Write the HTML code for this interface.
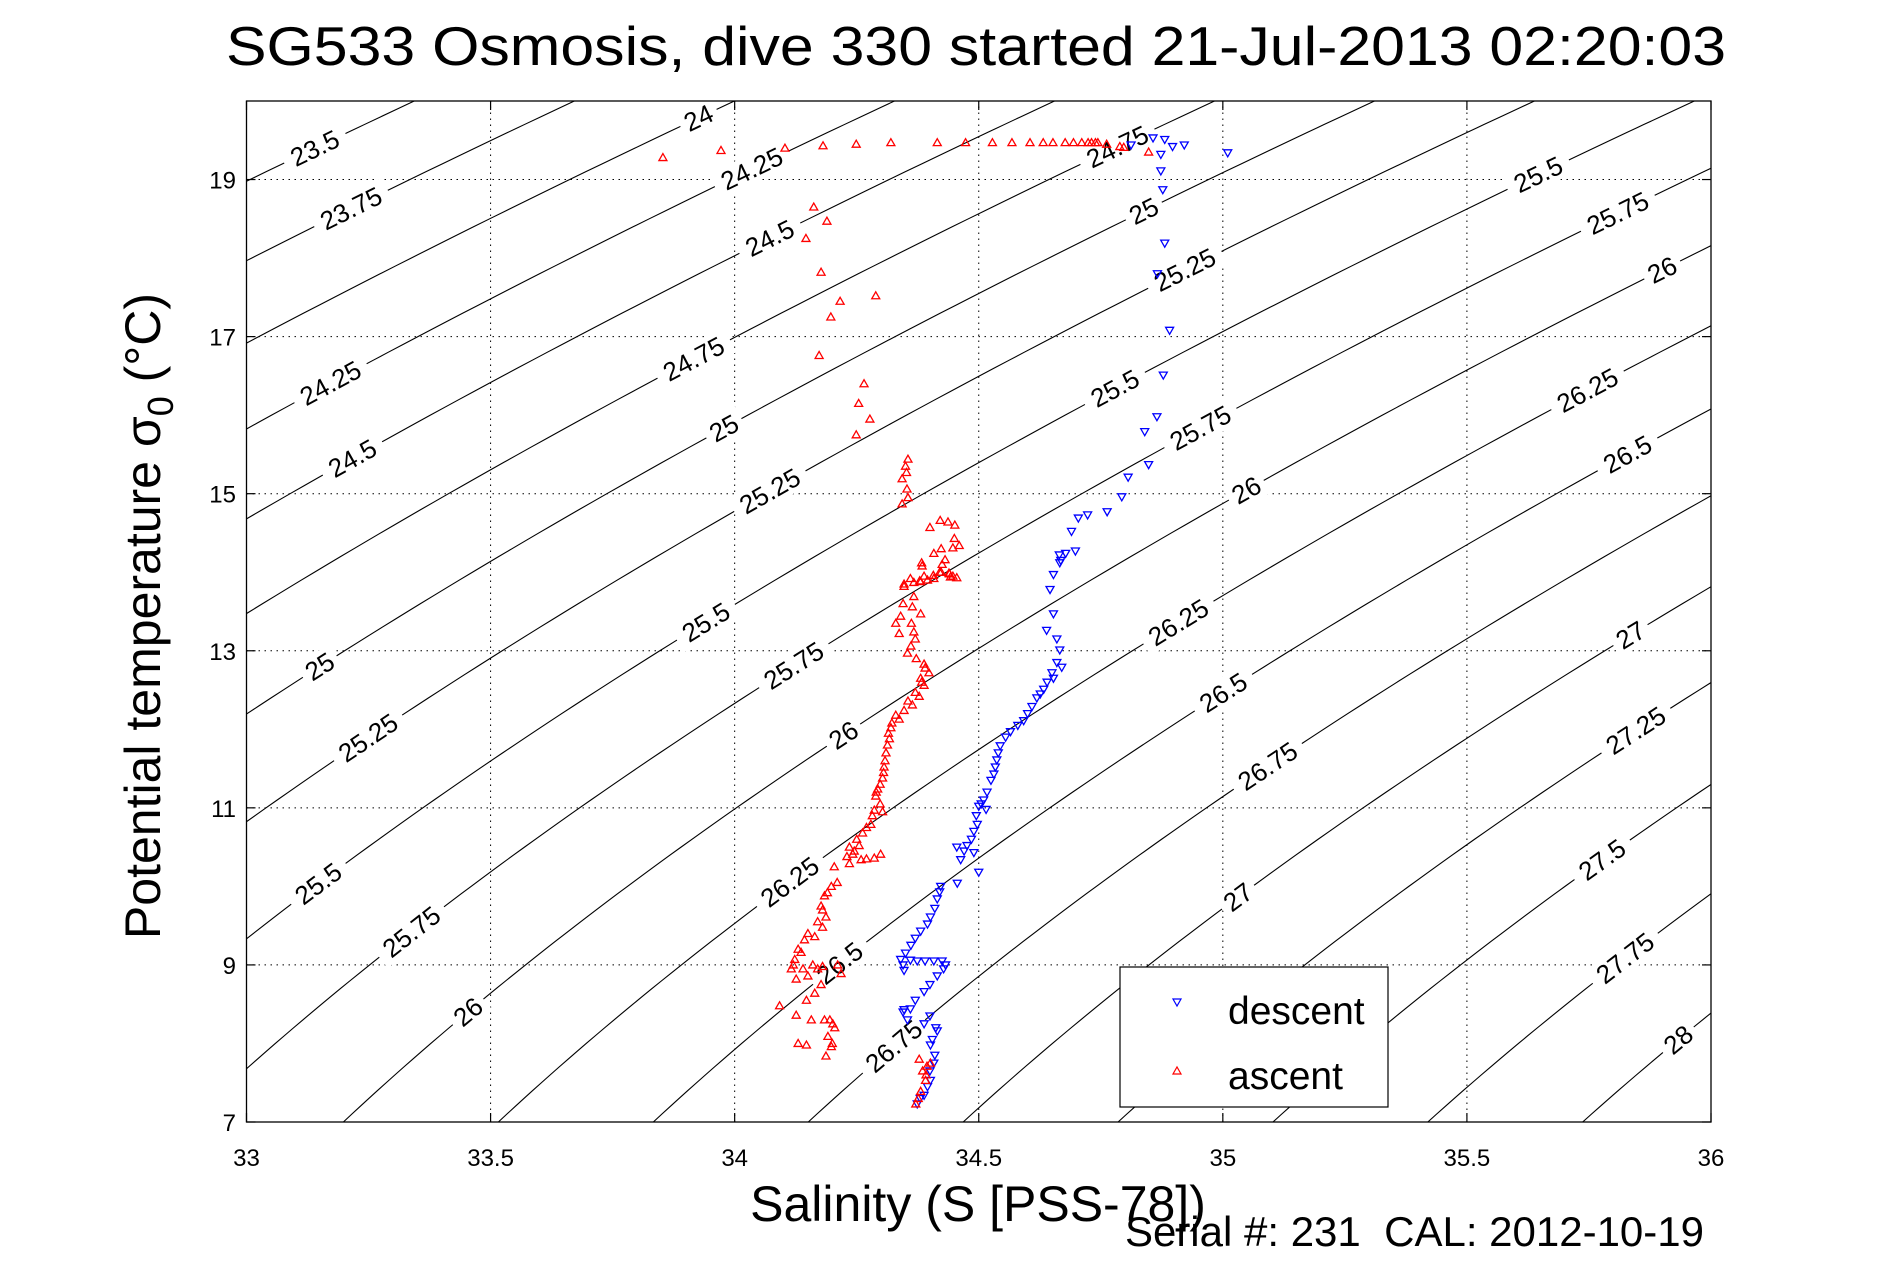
<!DOCTYPE html>
<html><head><meta charset="utf-8"><title>SG533 TS diagram</title>
<style>
html,body{margin:0;padding:0;background:#fff;}
svg{display:block;font-family:"Liberation Sans",sans-serif;}
</style></head>
<body>
<svg id="chart" width="1891" height="1262" viewBox="0 0 1891 1262" xmlns="http://www.w3.org/2000/svg">
<rect x="0" y="0" width="1891" height="1262" fill="#fff"/>
<text x="976" y="65" font-size="55" text-anchor="middle" textLength="1500" lengthAdjust="spacingAndGlyphs">SG533 Osmosis, dive 330 started 21-Jul-2013 02:20:03</text>
<defs><clipPath id="plotclip"><rect x="246.5" y="101" width="1464.5" height="1021"/></clipPath></defs>
<g id="grid"></g>
<g id="contours" clip-path="url(#plotclip)"></g>
<g id="clabels"></g>
<g id="desc" clip-path="url(#plotclip)"></g>
<g id="asc" clip-path="url(#plotclip)"></g>
<rect x="246.5" y="101" width="1464.5" height="1021" fill="none" stroke="#000" stroke-width="1.3"/>
<g id="ticks"></g>
<text x="978" y="1221" font-size="50" text-anchor="middle">Salinity (S [PSS-78])</text>
<text transform="translate(160,616) rotate(-90)" font-size="50" text-anchor="middle">Potential temperature σ<tspan font-size="36" dy="13">0</tspan><tspan dy="-13"> (°C)</tspan></text>
<text x="1704" y="1246" font-size="42" text-anchor="end">Serial #: 231&#160; CAL: 2012-10-19</text>
<g>
<rect x="1120" y="967" width="268" height="140" fill="#fff" stroke="#000" stroke-width="1.2"/>
<path d="M1173,999 L1181,999 L1177,1006 Z" fill="none" stroke="#0000ff" stroke-width="1.2"/>
<text x="1228" y="1024" font-size="39">descent</text>
<path d="M1173,1074 L1181,1074 L1177,1067 Z" fill="none" stroke="#ff0000" stroke-width="1.2"/>
<text x="1228" y="1089" font-size="39">ascent</text>
</g>
</svg>
<script>
const xTicks = [33, 33.5, 34, 34.5, 35, 35.5, 36];
const yTicks = [7, 9, 11, 13, 15, 17, 19];
const levels = [23.5,23.75,24,24.25,24.5,24.75,25,25.25,25.5,25.75,26,26.25,26.5,26.75,27,27.25,27.5,27.75,28];
const labelLevels = [23.5,23.75,24,24.25,24.5,24.75,24.25,24.5,25,25.25,24.75,25,25.25,25.5,25.75,25.5,25.75,26,26,25,25.25,25.5,25.75,26,26.25,26.5,26.25,26.5,26.75,25.5,25.75,26,26.25,26.5,26.75,27,27,27.25,27.5,27.75,28];
const labelS = [33.140,33.214,33.926,34.035,34.072,33.916,33.172,33.217,33.978,34.072,34.784,34.838,34.922,34.779,34.954,35.646,35.809,35.900,35.048,33.150,33.249,33.941,34.121,34.223,35.747,35.829,34.909,35.001,35.092,33.147,33.338,33.454,34.113,34.215,34.326,35.031,35.835,35.846,35.777,35.824,35.933];
const descS = [34.812,34.857,34.881,34.897,34.921,35.010,34.873,34.873,34.877,34.881,34.866,34.891,34.878,34.865,34.840,34.848,34.806,34.793,34.763,34.723,34.704,34.690,34.698,34.678,34.665,34.668,34.666,34.653,34.646,34.653,34.639,34.660,34.666,34.670,34.653,34.633,34.619,34.609,34.592,34.565,34.544,34.537,34.531,34.517,34.500,34.497,34.490,34.476,34.463,34.490,34.500,34.456,34.422,34.415,34.401,34.381,34.361,34.340,34.347,34.374,34.408,34.432,34.415,34.388,34.347,34.354,34.388,34.415,34.401,34.408,34.401,34.388,34.374,
34.660,34.650,34.640,34.626,34.600,34.580,34.555,34.540,34.534,34.525,34.510,34.505,34.515,34.495,34.485,34.470,34.455,34.420,34.410,34.395,34.370,34.350,34.345,34.360,34.390,34.425,34.428,34.400,34.370,34.345,34.360,34.400,34.412,34.405,34.410,34.400,34.395,34.380];
const descT = [19.44,19.53,19.51,19.42,19.44,19.34,19.32,19.11,18.87,18.19,17.80,17.08,16.51,15.98,15.79,15.37,15.21,14.96,14.77,14.73,14.69,14.52,14.27,14.24,14.22,14.15,14.12,13.97,13.78,13.47,13.26,13.15,13.01,12.79,12.65,12.51,12.40,12.29,12.11,11.97,11.79,11.61,11.43,11.20,11.02,10.79,10.70,10.52,10.34,10.43,10.18,10.04,10.00,9.84,9.61,9.43,9.25,9.07,8.93,9.05,9.05,9.00,8.86,8.66,8.43,8.30,8.25,8.16,7.98,7.75,7.53,7.34,7.23,
12.85,12.72,12.60,12.45,12.20,12.05,11.90,11.70,11.52,11.35,11.10,11.05,10.98,10.90,10.60,10.45,10.50,9.93,9.72,9.52,9.34,9.15,9.00,9.06,9.05,9.05,8.95,8.75,8.55,8.40,8.44,8.35,8.20,8.05,7.85,7.65,7.45,7.30];
const ascS = [33.853,33.972,34.103,34.181,34.249,34.320,34.415,34.473,34.528,34.568,34.605,34.632,34.652,34.677,34.694,34.711,34.724,34.731,34.739,34.744,34.762,34.789,34.797,34.848,34.162,34.189,34.146,34.177,34.216,34.289,34.197,34.173,34.265,34.254,34.277,34.249,34.355,34.350,34.352,34.343,34.353,34.355,34.343,34.421,34.400,34.437,34.451,34.450,34.460,34.447,34.423,34.408,34.431,34.383,34.423,34.407,34.447,34.388,34.379,34.347,34.367,34.439,34.384,34.425,34.442,34.408,34.381,34.347,34.367,34.364,34.381,34.340,34.330,34.367,34.337,34.361,34.354,34.388,34.398,34.381,34.388,34.378,34.364,34.347,34.337,34.320,34.317,34.310,34.306,34.303,34.293,34.289,34.286,34.303,34.279,34.262,34.255,34.242,34.259,34.286,34.299,34.235,34.235,34.204,34.198,34.184,34.177,34.187,34.180,34.164,34.143,34.136,34.123,34.116,34.126,34.150,34.180,34.211,34.218,34.177,34.164,34.147,34.092,34.126,34.157,34.184,34.201,34.191,34.198,34.187,34.130,34.147,34.378,34.394,34.391,34.381,34.371,34.401,
34.420,34.440,34.455,34.395,34.360,34.345,34.362,34.370,34.372,34.390,34.383,34.370,34.355,34.330,34.322,34.315,34.313,34.308,34.305,34.298,34.290,34.298,34.282,34.270,34.250,34.245,34.270,34.230,34.210,34.190,34.180,34.170,34.150,34.130,34.120,34.140,34.160,34.170,34.195,34.205,34.200,34.385,34.392,34.376];
const ascT = [19.28,19.37,19.40,19.43,19.45,19.47,19.47,19.47,19.47,19.47,19.47,19.47,19.47,19.47,19.47,19.47,19.47,19.47,19.47,19.47,19.45,19.42,19.41,19.35,18.65,18.47,18.25,17.82,17.45,17.52,17.25,16.76,16.40,16.15,15.95,15.75,15.44,15.35,15.27,15.19,15.06,14.95,14.87,14.66,14.57,14.64,14.60,14.43,14.34,14.31,14.30,14.24,14.16,14.12,14.00,13.96,13.95,13.95,13.89,13.85,13.87,13.99,14.08,14.10,13.94,13.92,13.88,13.82,13.69,13.56,13.47,13.44,13.35,13.24,13.22,13.06,12.97,12.83,12.72,12.65,12.56,12.42,12.31,12.24,12.13,12.02,11.88,11.70,11.52,11.38,11.24,11.15,10.97,10.95,10.79,10.68,10.52,10.41,10.34,10.36,10.41,10.50,10.29,10.25,10.00,9.88,9.75,9.61,9.48,9.36,9.32,9.16,9.07,8.95,8.82,8.86,8.98,9.00,8.89,8.75,8.64,8.55,8.48,8.36,8.30,8.30,8.25,8.09,7.96,7.84,8.00,7.98,7.80,7.71,7.53,7.39,7.23,7.75,
14.00,13.98,13.93,13.90,13.92,13.60,13.35,13.15,12.90,12.78,12.60,12.47,12.36,12.18,12.08,11.95,11.80,11.60,11.45,11.30,11.20,11.05,10.90,10.75,10.60,10.45,10.35,10.38,10.05,9.92,9.70,9.55,9.40,9.20,9.00,8.95,9.00,8.95,8.30,8.20,8.00,7.65,7.60,7.30];

const X0=246.5, X1=1711, Y0=1122, Y1=101, SMIN=33, SMAX=36, TMIN=7, TMAX=20;
const NS='http://www.w3.org/2000/svg';
function xs(s){return X0+(s-SMIN)/(SMAX-SMIN)*(X1-X0);}
function yt(t){return Y0-(t-TMIN)/(TMAX-TMIN)*(Y0-Y1);}
function sigma0(S,T){
  const rw=999.842594+6.793952e-2*T-9.095290e-3*T*T+1.001685e-4*T**3-1.120083e-6*T**4+6.536332e-9*T**5;
  const A=8.24493e-1-4.0899e-3*T+7.6438e-5*T*T-8.2467e-7*T**3+5.3875e-9*T**4;
  const B=-5.72466e-3+1.0227e-4*T-1.6546e-6*T*T;
  const C=4.8314e-4;
  return rw+A*S+B*Math.pow(S,1.5)+C*S*S-1000;
}
function solveS(lev,T){let a=20,b=45;for(let i=0;i<50;i++){const m=(a+b)/2;if(sigma0(m,T)<lev)a=m;else b=m;}return (a+b)/2;}
function solveT(lev,S){let a=-2,b=35;for(let i=0;i<50;i++){const m=(a+b)/2;if(sigma0(S,m)>lev)a=m;else b=m;}return (a+b)/2;}
function mk(tag,attrs,parent){const e=document.createElementNS(NS,tag);for(const k in attrs)e.setAttribute(k,attrs[k]);parent.appendChild(e);return e;}

const grid=document.getElementById('grid');
xTicks.slice(1,-1).forEach(v=>{
  const l=mk('line',{x1:xs(v),x2:xs(v),y1:Y0,y2:Y1,stroke:'#000','stroke-width':1,'stroke-dasharray':'1.5 4.5'},grid);
  
  
});
yTicks.forEach(v=>{
  if(v===TMIN)return;
  const l=mk('line',{x1:X0,x2:X1,y1:yt(v),y2:yt(v),stroke:'#000','stroke-width':1,'stroke-dasharray':'1.5 4.5'},grid);
  
  
});

const cg=document.getElementById('contours');
levels.forEach(lev=>{
  let d='';
  for(let T=TMIN-0.5;T<=TMAX+0.5;T+=0.1){const S=solveS(lev,T);d+=(d?'L':'M')+xs(S).toFixed(2)+','+yt(T).toFixed(2);}
  const p=mk('path',{d:d,fill:'none',stroke:'#000','stroke-width':1.1},cg);
  
  
});

const lg=document.getElementById('clabels');
labelLevels.forEach((lev,i)=>{
  const S=labelS[i], T=solveT(lev,S);
  const x=xs(S), y=yt(T);
  const xa=xs(solveS(lev,T-0.3)), ya=yt(T-0.3), xb=xs(solveS(lev,T+0.3)), yb=yt(T+0.3);
  const ang=Math.atan2(yb-ya,xb-xa)*180/Math.PI;
  const g=mk('g',{transform:`translate(${x.toFixed(1)},${y.toFixed(1)}) rotate(${ang.toFixed(1)})`},lg);
  
  
  const txt=String(lev);
  const w=txt.length*14+12;
  mk('rect',{x:-w/2,y:-14,width:w,height:28,fill:'#fff'},g);
  const t=mk('text',{x:0,y:9,'font-size':26,'text-anchor':'middle'},g);
  t.textContent=txt;
});

function drawSeries(id,Sarr,Tarr,color,down,name){
  const g=document.getElementById(id);
  for(let i=0;i<Sarr.length;i++){
    const x=xs(Sarr[i]), y=yt(Tarr[i]);
    const d=down?`M${x-4},${y-3}L${x+4},${y-3}L${x},${y+4}Z`:`M${x-4},${y+3}L${x+4},${y+3}L${x},${y-4}Z`;
    const p=mk('path',{d:d,fill:'none',stroke:color,'stroke-width':1.3},g);
    
    
  }
}
drawSeries('desc',descS,descT,'#0000ff',true,'descent-point');
drawSeries('asc',ascS,ascT,'#ff0000',false,'ascent-point');

const tg=document.getElementById('ticks');
xTicks.forEach(v=>{
  const x=xs(v);
  mk('line',{x1:x,x2:x,y1:Y0,y2:Y0-9,stroke:'#000','stroke-width':1.2},tg);
  mk('line',{x1:x,x2:x,y1:Y1,y2:Y1+9,stroke:'#000','stroke-width':1.2},tg);
  const t=mk('text',{x:x,y:1166,'font-size':24,'text-anchor':'middle'},tg);
  
  
  t.textContent=String(v);
});
yTicks.forEach(v=>{
  const y=yt(v);
  mk('line',{x1:X0,x2:X0+9,y1:y,y2:y,stroke:'#000','stroke-width':1.2},tg);
  mk('line',{x1:X1,x2:X1-9,y1:y,y2:y,stroke:'#000','stroke-width':1.2},tg);
  const t=mk('text',{x:236,y:y+9,'font-size':24,'text-anchor':'end'},tg);
  
  
  t.textContent=String(v);
});
</script>
</body></html>
